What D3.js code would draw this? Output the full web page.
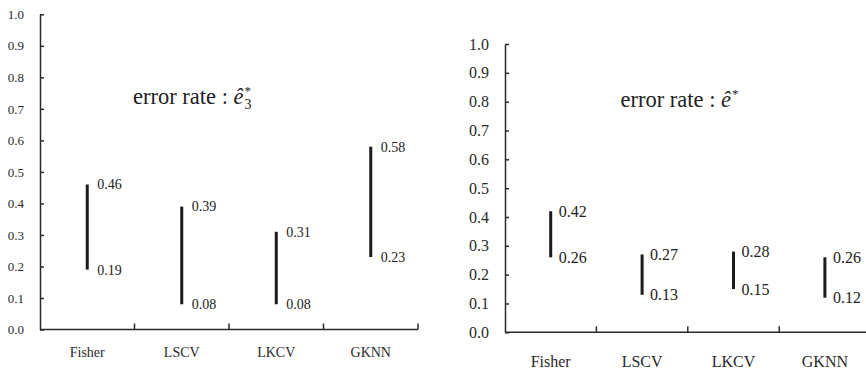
<!DOCTYPE html>
<html>
<head>
<meta charset="utf-8">
<script src="https://cdn.jsdelivr.net/npm/d3@7"></script>
<style>
  body { margin: 0; background: #fff; }
  svg { display: block; font-family: "Liberation Serif", "Times New Roman", serif; }
  .axis path, .axis line { stroke: #2a2a2a; stroke-width: 1.5; }
  .axis text { fill: #2a2a2a; }
</style>
</head>
<body>
<svg id="chart" width="866" height="372"></svg>
<script>
// data
var methods = ["Fisher", "LSCV", "LKCV", "GKNN"];
var e3Low = [0.19, 0.08, 0.08, 0.23];
var e3High = [0.46, 0.39, 0.31, 0.58];
var eLow = [0.26, 0.13, 0.15, 0.12];
var eHigh = [0.42, 0.27, 0.28, 0.26];
var yTicks = [0, 0.1, 0.2, 0.3, 0.4, 0.5, 0.6, 0.7, 0.8, 0.9, 1.0];

var svg = d3.select("#chart");
var fmt = d3.format(".2f");

function drawPanel(p) {
  var g = svg.append("g");

  var x = d3.scaleBand().domain(methods).range([p.left, p.right]).padding(0);
  var y = d3.scaleLinear().domain([0, 1]).range([p.bottom, p.top]);

  // y axis, ticks pointing inward
  g.append("g")
    .attr("class", "axis")
    .attr("transform", "translate(" + p.left + ",0)")
    .call(d3.axisLeft(y).tickValues(yTicks).tickFormat(d3.format(".1f"))
      .tickSizeInner(-4).tickSizeOuter(0).tickPadding(16))
    .attr("font-family", null)
    .attr("font-size", p.tickFont);

  // x axis with category labels at band centres
  var xa = g.append("g")
    .attr("class", "axis")
    .attr("transform", "translate(0," + p.bottom + ")")
    .call(d3.axisBottom(x).tickSize(0).tickPadding(p.catPad))
    .attr("font-family", null)
    .attr("font-size", p.catFont);
  xa.select(".domain").attr("d", "M" + p.left + ",0H" + p.right);

  // boundary ticks between categories
  xa.selectAll("line.sep")
    .data(methods)
    .enter().append("line")
    .attr("class", "sep")
    .attr("x1", function (d) { return x(d) + x.bandwidth(); })
    .attr("x2", function (d) { return x(d) + x.bandwidth(); })
    .attr("y1", 0)
    .attr("y2", -6);

  var rows = methods.map(function (m, i) { return { m: m, lo: p.low[i], hi: p.high[i] }; });
  var cx = function (d) { return x(d.m) + x.bandwidth() / 2; };

  g.selectAll("line.range")
    .data(rows)
    .enter().append("line")
    .attr("class", "range")
    .attr("x1", cx).attr("x2", cx)
    .attr("y1", function (d) { return y(d.lo); })
    .attr("y2", function (d) { return y(d.hi); })
    .attr("stroke", "#1c1c1c")
    .attr("stroke-width", 3);

  var labels = [];
  rows.forEach(function (d) {
    labels.push({ m: d.m, v: d.hi });
    labels.push({ m: d.m, v: d.lo });
  });

  g.selectAll("text.val")
    .data(labels)
    .enter().append("text")
    .attr("class", "val")
    .attr("x", function (d) { return cx(d) + p.valGap; })
    .attr("y", function (d) { return y(d.v); })
    .attr("dy", "0.35em")
    .attr("font-size", p.valFont)
    .attr("fill", "#222")
    .text(function (d) { return fmt(d.v); });

  // title with hat e and scripts
  var t = g.append("text")
    .attr("x", p.titleX)
    .attr("y", p.titleY)
    .attr("font-size", 22.5)
    .attr("fill", "#222");
  t.append("tspan").text("error rate : ");
  t.append("tspan").attr("font-style", "italic").text("ê");
  var endX = p.titleX + t.node().getComputedTextLength() + 1;
  g.append("text")
    .attr("x", endX)
    .attr("y", p.titleY - 9)
    .attr("font-size", 13)
    .attr("fill", "#222")
    .text("*");
  if (p.sub) {
    g.append("text")
      .attr("x", endX)
      .attr("y", p.titleY + 5)
      .attr("font-size", 14)
      .attr("fill", "#222")
      .text(p.sub);
  }
}

drawPanel({
  left: 40, right: 418, top: 14.3, bottom: 329.5,
  low: e3Low, high: e3High,
  tickFont: 13, catFont: 14, catPad: 17.5, valFont: 14, valGap: 10,
  titleX: 133, titleY: 104, sub: "3"
});

drawPanel({
  left: 505, right: 870.6, top: 44, bottom: 332.3,
  low: eLow, high: eHigh,
  tickFont: 16, catFont: 16, catPad: 23, valFont: 16, valGap: 8,
  titleX: 620.5, titleY: 107, sub: null
});
</script>
</body>
</html>
